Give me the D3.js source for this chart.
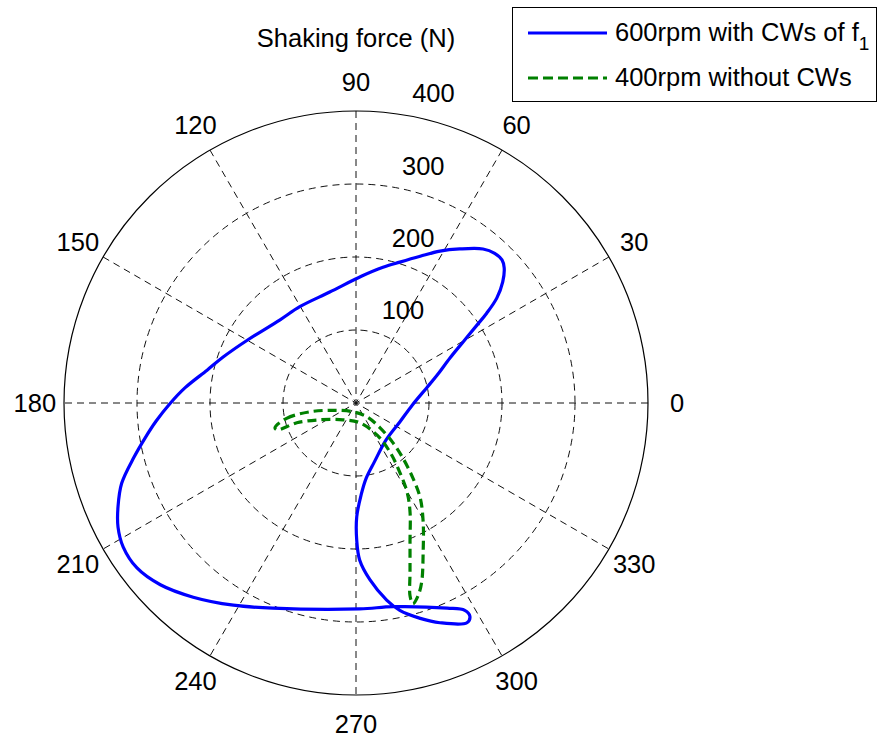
<!DOCTYPE html>
<html>
<head>
<meta charset="utf-8">
<script src="https://cdn.jsdelivr.net/npm/d3@7"></script>
<style>
  body { margin: 0; background: #fff; }
  text { font-family: "Liberation Sans", Arial, sans-serif; fill: #000; }
</style>
</head>
<body>
<svg id="chart" width="878" height="742"></svg>
<script>
// angle ticks (deg) and radial ticks (N)
var angleTicks = [0, 30, 60, 90, 120, 150, 180, 210, 240, 270, 300, 330];
var ringTicks = [100, 200, 300, 400];
var seriesNames = ["600rpm with CWs of f", "400rpm without CWs"];

// shaking force components (N), 600rpm with counterweights
var fx600 = [77, 97, 111, 129, 147, 166, 179, 193, 201, 203, 200, 190, 174, 142, 115, 88, 60, 37, 8, -36,
	-77, -104, -149, -182, -204, -234, -255, -274, -289, -304, -321, -326, -326, -319, -300, -268, -223, -168, -114, 5,
	51, 125, 149, 156, 152, 115, 88, 60, 42, 19, 5, 1, 1, 7, 14, 25, 41, 60];
var fy600 = [-3, 21, 38, 62, 84, 107, 123, 144, 166, 185, 196, 205, 211, 211, 208, 201, 193, 186, 174, 152,
	132, 114, 86, 63, 45, 21, -1, -25, -48, -74, -110, -142, -170, -197, -226, -249, -266, -277, -281, -282,
	-279, -281, -284, -292, -301, -301, -295, -284, -270, -242, -215, -188, -156, -126, -103, -81, -51, -26];

// shaking force components (N), 400rpm without counterweights
var fx400 = [-111, -95, -63, -32, -4, 15, 33, 51, 64, 78, 88, 92, 92, 90, 85, 78,
	74, 74, 74, 74, 70, 60, 47, 29, 5, -18, -49, -81, -108];
var fy400 = [-34, -21, -12, -10, -12, -19, -34, -55, -75, -103, -130, -163, -204, -245, -264, -275,
	-264, -232, -190, -149, -122, -95, -68, -44, -27, -23, -23, -27, -37];

var cx = 356, cy = 403, R = 292;
var fontSize = "25.5px";
var svg = d3.select("#chart");

var rScale = d3.scaleLinear().domain([0, 400]).range([0, R]);
var xScale = d3.scaleLinear().domain([-400, 400]).range([cx - R, cx + R]);
var yScale = d3.scaleLinear().domain([-400, 400]).range([cy + R, cy - R]);

var grid = svg.append("g");

// dashed rings
grid.selectAll(".ring").data(ringTicks.slice(0, -1))
	.enter().append("circle")
	.attr("cx", cx).attr("cy", cy)
	.attr("r", function(d){ return rScale(d); })
	.attr("fill", "none")
	.attr("stroke", "#111")
	.attr("stroke-width", 1)
	.attr("stroke-dasharray", "7,5");

// spokes, full diameter like matlab
grid.selectAll(".spoke").data(angleTicks.slice(0, 6))
	.enter().append("line")
	.attr("x1", function(d){ return cx + rScale(400) * Math.cos(d * Math.PI / 180); })
	.attr("y1", function(d){ return cy - rScale(400) * Math.sin(d * Math.PI / 180); })
	.attr("x2", function(d){ return cx - rScale(400) * Math.cos(d * Math.PI / 180); })
	.attr("y2", function(d){ return cy + rScale(400) * Math.sin(d * Math.PI / 180); })
	.attr("stroke", "#111")
	.attr("stroke-width", 1)
	.attr("stroke-dasharray", "7,5");

// outer solid ring
grid.append("circle")
	.attr("cx", cx).attr("cy", cy)
	.attr("r", rScale(400))
	.attr("fill", "none")
	.attr("stroke", "#000")
	.attr("stroke-width", 1.2);

// angle labels
grid.selectAll(".alabel").data(angleTicks)
	.enter().append("text")
	.attr("x", function(d){ return cx + 1.1 * rScale(400) * Math.cos(d * Math.PI / 180); })
	.attr("y", function(d){ return cy - 1.1 * rScale(400) * Math.sin(d * Math.PI / 180); })
	.attr("text-anchor", "middle")
	.attr("dominant-baseline", "central")
	.style("font-size", fontSize)
	.text(function(d){ return d; });

// radial labels along 82 deg
var a82 = 82 * Math.PI / 180;
grid.selectAll(".rlabel").data(ringTicks)
	.enter().append("text")
	.attr("x", function(d){ return cx + rScale(d + 5) * Math.cos(a82) + 15; })
	.attr("y", function(d){ return cy - rScale(d + 5) * Math.sin(a82) - 8; })
	.style("font-size", fontSize)
	.text(function(d){ return d; });

// title
svg.append("text")
	.attr("x", 356).attr("y", 47)
	.attr("text-anchor", "middle")
	.style("font-size", fontSize)
	.text("Shaking force (N)");

var line = d3.line()
	.x(function(d){ return xScale(d[0]); })
	.y(function(d){ return yScale(d[1]); })
	.curve(d3.curveCatmullRomClosed.alpha(0.5));

svg.append("path")
	.datum(d3.zip(fx600, fy600))
	.attr("d", line)
	.attr("fill", "none")
	.attr("stroke", "#0000ff")
	.attr("stroke-width", 3.2);

svg.append("path")
	.datum(d3.zip(fx400, fy400))
	.attr("d", line)
	.attr("fill", "none")
	.attr("stroke", "#008000")
	.attr("stroke-width", 3.2)
	.attr("stroke-dasharray", "9,5");

// legend
var legend = svg.append("g");
legend.append("rect")
	.attr("x", 512.5).attr("y", 7.5)
	.attr("width", 364).attr("height", 94)
	.attr("fill", "#fff")
	.attr("stroke", "#000");

var colors = ["#0000ff", "#008000"];
var dashes = [null, "10,5"];
seriesNames.forEach(function(name, i){
	var ly = 33 + i * 45;
	legend.append("line")
		.attr("x1", 528).attr("x2", 607)
		.attr("y1", ly).attr("y2", ly)
		.attr("stroke", colors[i])
		.attr("stroke-width", 3.2)
		.attr("stroke-dasharray", dashes[i]);
	var t = legend.append("text")
		.attr("x", 615).attr("y", ly + 8)
		.style("font-size", fontSize)
		.text(name);
	if (i == 0){
		t.append("tspan")
			.attr("dy", 9)
			.style("font-size", "19px")
			.text("1");
	}
});
</script>
</body>
</html>
